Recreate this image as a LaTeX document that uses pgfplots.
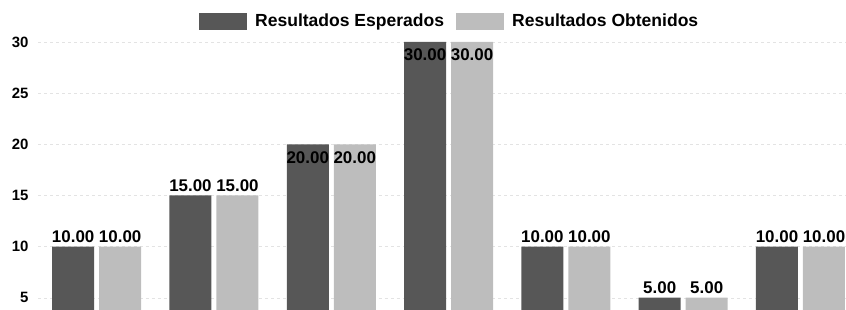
\documentclass[border=0pt]{standalone}
\usepackage{fontspec}
\setmainfont{Liberation Sans}
\usepackage{pgfplots}
\pgfplotsset{compat=1.18}
\definecolor{darkbar}{gray}{0.34}
\definecolor{lightbar}{gray}{0.74}
\begin{document}
\begin{tikzpicture}
\begin{axis}[
  scale only axis, width=808bp, height=310bp,
  xmin=-0.5, xmax=6.388, ymin=3.8, ymax=34.1,
  ybar=5bp, bar width=42bp,
  axis line style={draw=none},
  xtick=\empty,
  ytick={5,10,...,30},
  tick style={draw=none},
  ymajorgrids, major grid style={gray!22, dashed},
  /pgf/number format/assume math mode=true,
  yticklabel style={font=\fontsize{15}{18}\selectfont\bfseries, xshift=-6bp},
  nodes near coords={\pgfmathprintnumber[fixed,fixed zerofill,precision=2]{\pgfplotspointmeta}},
  every node near coord/.append style={font=\fontsize{17}{20}\selectfont\bfseries, inner sep=4bp, text=black},
  legend style={at={(0.5095,1)}, anchor=north, yshift=-10bp, draw=none, fill=none, font=\fontsize{17.6}{20}\selectfont\bfseries, legend columns=2, /tikz/every even column/.append style={column sep=10bp}},
  legend image code/.code={\fill[#1] (0bp,-8.5bp) rectangle (48bp,8.5bp); \path (54bp,0bp);},
]
\addplot[fill=darkbar, draw=none, coordinate style/.condition={y>=20}{anchor=north, yshift=-3bp}] coordinates {(0,10) (1,15) (2,20) (3,30) (4,10) (5,5) (6,10)};
\addplot[fill=lightbar, draw=none, coordinate style/.condition={y>=20}{anchor=north, yshift=-3bp}] coordinates {(0,10) (1,15) (2,20) (3,30) (4,10) (5,5) (6,10)};
\legend{Resultados Esperados, Resultados Obtenidos}
\end{axis}
\pgfresetboundingbox
\path (current axis.south west) ++(-38bp,0) rectangle (current axis.north east);
\end{tikzpicture}
\end{document}
